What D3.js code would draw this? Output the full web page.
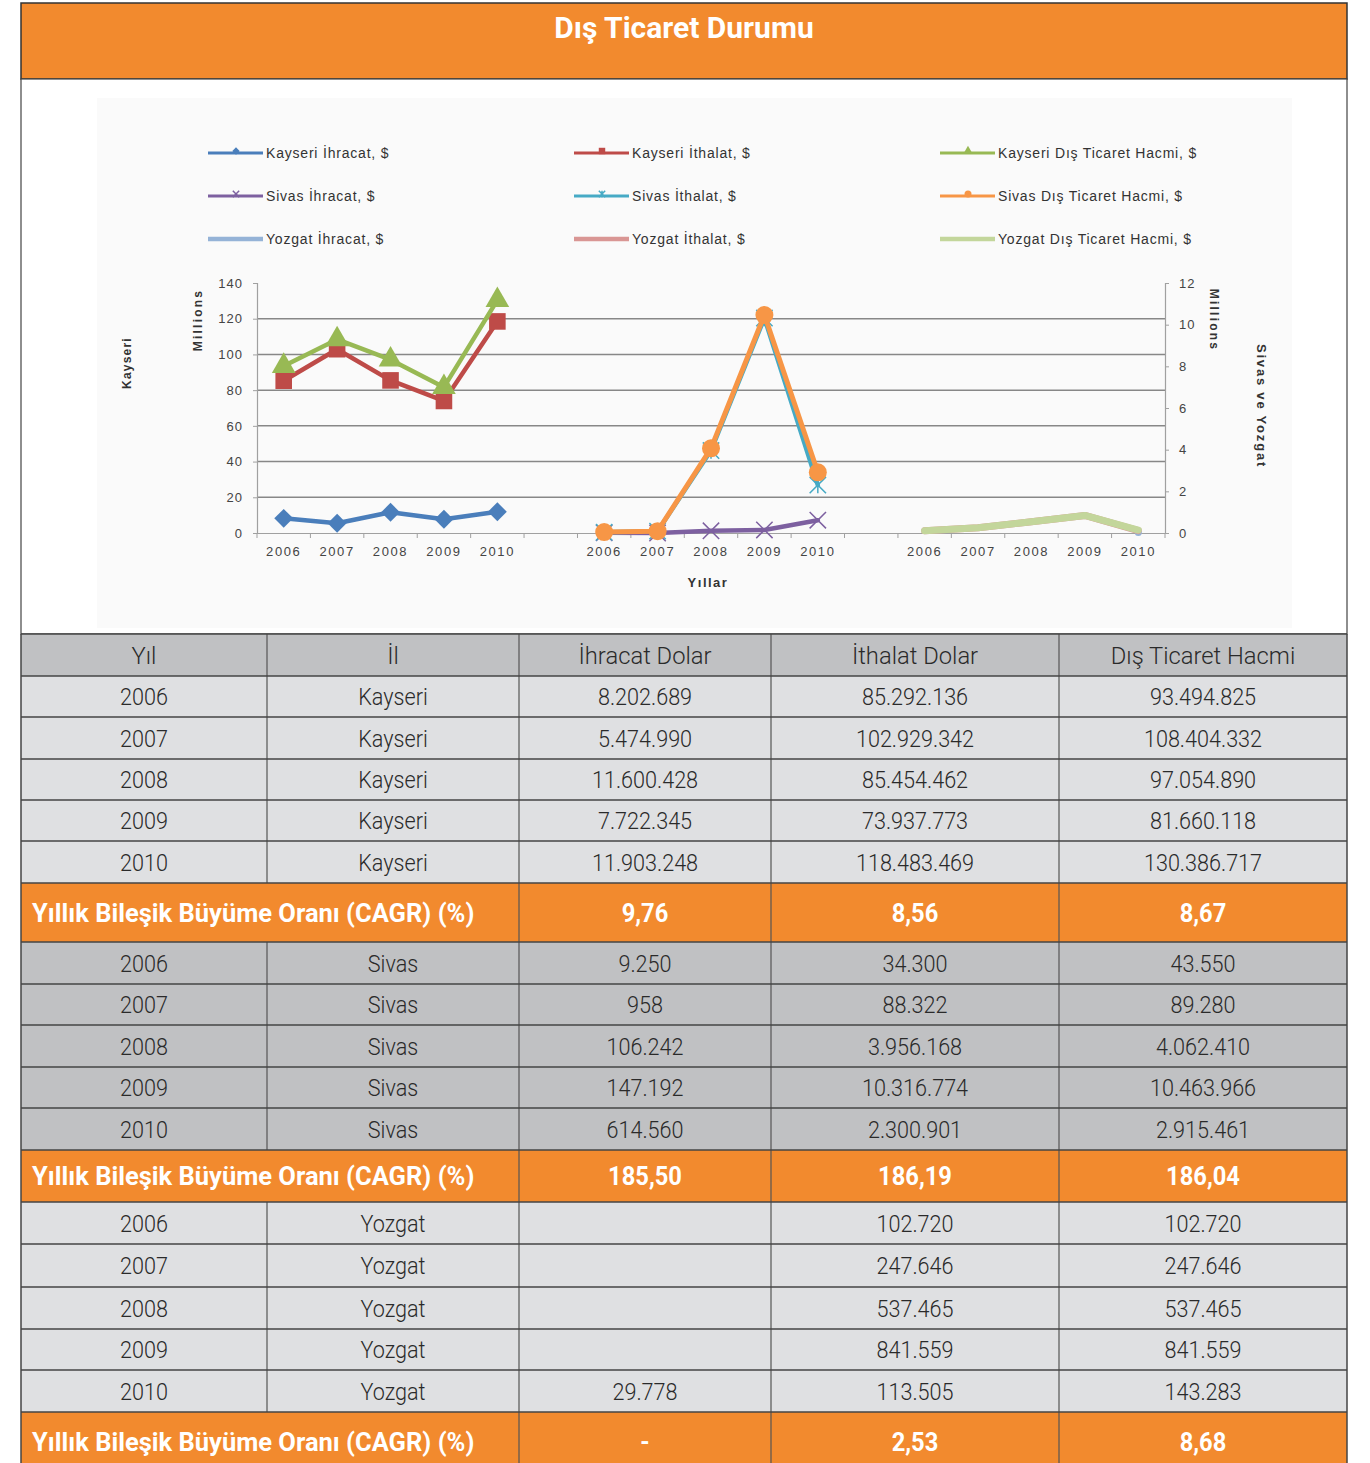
<!DOCTYPE html>
<html>
<head>
<meta charset="utf-8">
<script src="https://cdn.jsdelivr.net/npm/d3@7"></script>
<style>
  body { margin: 0; background: #fff; }
  svg { display: block; }
</style>
</head>
<body>
<script>
const years = [2006, 2007, 2008, 2009, 2010];
const provinces = ["Kayseri", "Sivas", "Yozgat"];
const kayseriIhracat = [8202689, 5474990, 11600428, 7722345, 11903248];
const kayseriIthalat = [85292136, 102929342, 85454462, 73937773, 118483469];
const kayseriHacim = [93494825, 108404332, 97054890, 81660118, 130386717];
const sivasIhracat = [9250, 958, 106242, 147192, 614560];
const sivasIthalat = [34300, 88322, 3956168, 10316774, 2300901];
const sivasHacim = [43550, 89280, 4062410, 10463966, 2915461];
const yozgatIhracat = [null, null, null, null, 29778];
const yozgatIthalat = [102720, 247646, 537465, 841559, 113505];
const yozgatHacim = [102720, 247646, 537465, 841559, 143283];
const cagrKayseri = [9.76, 8.56, 8.67];
const cagrSivas = [185.50, 186.19, 186.04];
const cagrYozgat = [null, 2.53, 8.68];
const tableHeaders = ["Yıl", "İl", "İhracat Dolar", "İthalat Dolar", "Dış Ticaret Hacmi"];
const cagrLabel = "Yıllık Bileşik Büyüme Oranı (CAGR) (%)";
const leftTicks = [0, 20, 40, 60, 80, 100, 120, 140];
const rightTicks = [0, 2, 4, 6, 8, 10, 12];
const title = "Dış Ticaret Durumu";

const W = 1370, H = 1463;
const orange = "#f28a2e";
const tr = d3.formatLocale({decimal: ",", thousands: ".", grouping: [3], currency: ["", ""]});
const fmtInt = tr.format(",d");
const fmtPct = tr.format(",.2f");

const svg = d3.select("body").append("svg").attr("width", W).attr("height", H);

// Title bar
svg.append("rect").attr("x", 21).attr("y", 3).attr("width", 1326).attr("height", 76)
  .attr("fill", orange).attr("stroke", "#333").attr("stroke-width", 1.5);
svg.append("text").attr("transform", "translate(684,38) scale(1,1)")
  .attr("text-anchor", "middle").attr("fill", "#fff")
  .style("font", "bold 30px Roboto").text(title);

// Chart panel
svg.append("rect").attr("x", 21).attr("y", 79).attr("width", 1326).attr("height", 555)
  .attr("fill", "#fff").attr("stroke", "#444").attr("stroke-width", 1.2);
svg.append("rect").attr("x", 97).attr("y", 98).attr("width", 1195).attr("height", 530)
  .attr("fill", "#fafafa");

// ----- chart -----
const xKeys = [];
provinces.forEach((p, i) => {
  years.forEach(y => xKeys.push(p + "-" + y));
  if (i < provinces.length - 1) xKeys.push("gap" + i);
});
const x = d3.scaleBand().domain(xKeys).range([257, 1165]).padding(0);
const cx = k => x(k) + x.bandwidth() / 2;
const yL = d3.scaleLinear().domain([0, 140]).range([533, 283]);
const yR = d3.scaleLinear().domain([0, 12]).range([533, 283]);

const chart = svg.append("g").style("font-family", "'Liberation Sans', Arial, sans-serif");

// gridlines
chart.append("g").selectAll("line").data(leftTicks.filter(d => d > 0 && d < 140)).join("line")
  .attr("x1", 257).attr("x2", 1165).attr("y1", d => yL(d)).attr("y2", d => yL(d))
  .attr("stroke", "#878787").attr("stroke-width", 1.5);

// axes
const tickStyle = a => a.attr("fill", "#444").style("font-size", "13px")
  .style("letter-spacing", "1px").style("font-family", "'Liberation Sans', Arial");
const axL = chart.append("g").attr("transform", "translate(257,0)")
  .call(d3.axisLeft(yL).tickValues(leftTicks).tickSize(4).tickPadding(10));
const axR = chart.append("g").attr("transform", "translate(1165,0)")
  .call(d3.axisRight(yR).tickValues(rightTicks).tickSize(4).tickPadding(10));
[axL, axR].forEach(a => {
  a.select(".domain").attr("stroke", "#a0a0a0").attr("stroke-width", 1.2);
  a.selectAll(".tick line").attr("stroke", "#a0a0a0");
  tickStyle(a.selectAll(".tick text"));
});
const axB = chart.append("g").attr("transform", "translate(0,533)")
  .call(d3.axisBottom(x).tickSize(0).tickPadding(14).tickFormat(k => k.startsWith("gap") ? "" : k.split("-")[1]));
axB.select(".domain").attr("stroke", "#a0a0a0").attr("stroke-width", 1.2);
tickStyle(axB.selectAll(".tick text")).style("letter-spacing", "1.6px");
// category boundary ticks
chart.append("g").selectAll("line").data(xKeys.concat(["end"])).join("line")
  .attr("x1", k => k === "end" ? 1165 : x(k)).attr("x2", k => k === "end" ? 1165 : x(k))
  .attr("y1", 533).attr("y2", 538).attr("stroke", "#a0a0a0");

// axis titles
const axTitle = (tf, txt, size, ls) => chart.append("text").attr("transform", tf).attr("text-anchor", "middle")
  .style("font-size", size + "px").style("font-weight", "bold").style("letter-spacing", ls + "px")
  .attr("fill", "#333").text(txt);
axTitle("translate(131,363) rotate(-90)", "Kayseri", 12, 1.2);
axTitle("translate(202,320) rotate(-90)", "Millions", 12, 2.2);
axTitle("translate(1210,320) rotate(90)", "Millions", 12, 2.2);
axTitle("translate(1257,406) rotate(90)", "Sivas ve Yozgat", 13, 1.8);
axTitle("translate(708,587)", "Yıllar", 13, 1.5);

// series
const series = [
  {name: "Kayseri İhracat, $", prov: "Kayseri", vals: kayseriIhracat, y: yL, color: "#4a7ebb", w: 4.5, mk: "diamond"},
  {name: "Kayseri İthalat, $", prov: "Kayseri", vals: kayseriIthalat, y: yL, color: "#be4b48", w: 4.5, mk: "square"},
  {name: "Kayseri Dış Ticaret Hacmi, $", prov: "Kayseri", vals: kayseriHacim, y: yL, color: "#98b954", w: 4.5, mk: "triangle"},
  {name: "Sivas İhracat, $", prov: "Sivas", vals: sivasIhracat, y: yR, color: "#7d60a0", w: 4.5, mk: "x"},
  {name: "Sivas İthalat, $", prov: "Sivas", vals: sivasIthalat, y: yR, color: "#46aac5", w: 4.5, mk: "star"},
  {name: "Sivas Dış Ticaret Hacmi, $", prov: "Sivas", vals: sivasHacim, y: yR, color: "#f79646", w: 5, mk: "circle"},
  {name: "Yozgat İhracat, $", prov: "Yozgat", vals: yozgatIhracat, y: yR, color: "#95b3d7", w: 7, mk: null},
  {name: "Yozgat İthalat, $", prov: "Yozgat", vals: yozgatIthalat, y: yR, color: "#d99694", w: 7, mk: null},
  {name: "Yozgat Dış Ticaret Hacmi, $", prov: "Yozgat", vals: yozgatHacim, y: yR, color: "#c3d69b", w: 7, mk: null}
];

function drawMarker(g, mk, color, s) {
  if (mk === "diamond") {
    g.append("path").attr("d", d3.symbol(d3.symbolSquare, s * s * 0.55)()).attr("transform", "rotate(45)").attr("fill", color);
  } else if (mk === "square") {
    g.append("path").attr("d", d3.symbol(d3.symbolSquare, s * s * 0.85)()).attr("fill", color);
  } else if (mk === "triangle") {
    g.append("path").attr("d", d3.symbol(d3.symbolTriangle, s * s * 0.75)()).attr("fill", color);
  } else if (mk === "circle") {
    g.append("circle").attr("r", s / 2).attr("fill", color);
  } else if (mk === "x" || mk === "star") {
    const h = s / 2.2;
    let d = `M${-h},${-h}L${h},${h}M${-h},${h}L${h},${-h}`;
    if (mk === "star") d += `M0,${-h}L0,${h}`;
    g.append("path").attr("d", d).attr("stroke", color).attr("stroke-width", 1.5).attr("fill", "none");
  }
}

const lineG = chart.append("g");
series.forEach(s => {
  const pts = years.map((yr, i) => ({k: s.prov + "-" + yr, v: s.vals[i]}));
  const line = d3.line().defined(d => d.v != null)
    .x(d => cx(d.k)).y(d => s.y(d.v / 1e6));
  lineG.append("path").datum(pts).attr("d", line).attr("fill", "none")
    .attr("stroke", s.color).attr("stroke-width", s.w).attr("stroke-linejoin", "round").attr("stroke-linecap", "round");
  if (s.mk) {
    pts.filter(d => d.v != null).forEach(d => {
      const g = lineG.append("g").attr("transform", `translate(${cx(d.k)},${s.y(d.v / 1e6)})`);
      drawMarker(g, s.mk, s.color, 18);
    });
  }
});

// legend
const legCols = [208, 574, 940], legRows = [153, 196, 239];
series.forEach((s, i) => {
  const lx = legCols[i % 3], ly = legRows[Math.floor(i / 3)];
  const g = chart.append("g");
  g.append("line").attr("x1", lx).attr("x2", lx + 55).attr("y1", ly).attr("y2", ly)
    .attr("stroke", s.color).attr("stroke-width", s.mk ? 3 : 4.5);
  if (s.mk) {
    const mg = g.append("g").attr("transform", `translate(${lx + 28},${ly - 2})`);
    drawMarker(mg, s.mk, s.color, 7);
  }
  g.append("text").attr("x", lx + 58).attr("y", ly + 5)
    .style("font-size", "14px").style("letter-spacing", "0.8px").attr("fill", "#333").text(s.name);
});

// ----- table -----
const cols = [21, 267, 519, 771, 1059, 1347];
const rowH = [42, 41, 42, 41, 41, 42, 59, 42, 41, 42, 41, 42, 52, 42, 43, 42, 41, 42, 60];
const provData = [
  {prov: "Kayseri", ih: kayseriIhracat, it: kayseriIthalat, hc: kayseriHacim, cagr: cagrKayseri, bg: "#dfe0e2"},
  {prov: "Sivas", ih: sivasIhracat, it: sivasIthalat, hc: sivasHacim, cagr: cagrSivas, bg: "#c0c1c3"},
  {prov: "Yozgat", ih: yozgatIhracat, it: yozgatIthalat, hc: yozgatHacim, cagr: cagrYozgat, bg: "#dfe0e2"}
];
const rows = [{type: "head", cells: tableHeaders, bg: "#c0c1c3"}];
provData.forEach(p => {
  years.forEach((yr, i) => rows.push({
    type: "data", bg: p.bg,
    cells: [String(yr), p.prov, p.ih[i] == null ? "" : fmtInt(p.ih[i]), fmtInt(p.it[i]), fmtInt(p.hc[i])]
  }));
  rows.push({type: "cagr", bg: orange, cells: p.cagr.map(v => v == null ? "-" : fmtPct(v))});
});

const table = svg.append("g").style("font-family", "Roboto, sans-serif");
let rowTop = 634;
rows.forEach((r, ri) => {
  const h = rowH[ri];
  const g = table.append("g");
  g.append("rect").attr("x", cols[0]).attr("y", rowTop).attr("width", cols[5] - cols[0]).attr("height", h)
    .attr("fill", r.bg);
  const mid = rowTop + h / 2;
  if (r.type === "cagr") {
    g.append("text").attr("transform", `translate(32,${mid + 9}) scale(1.02,1)`)
      .attr("fill", "#fff").style("font-size", "25px").style("font-weight", "bold").text(cagrLabel);
    r.cells.forEach((c, ci) => {
      const x0 = cols[ci + 2], x1 = cols[ci + 3];
      g.append("text").attr("transform", `translate(${(x0 + x1) / 2},${mid + 9}) scale(0.95,1)`)
        .attr("text-anchor", "middle").attr("fill", "#fff")
        .style("font-size", "25px").style("font-weight", "bold").text(c);
    });
    [519, 771, 1059].forEach(vx => g.append("line").attr("x1", vx).attr("x2", vx).attr("y1", rowTop).attr("y2", rowTop + h)
      .attr("stroke", "#555").attr("stroke-width", 1.2));
  } else {
    const sx = r.type === "head" ? 0.99 : 0.9;
    r.cells.forEach((c, ci) => {
      const x0 = cols[ci], x1 = cols[ci + 1];
      g.append("text").attr("transform", `translate(${(x0 + x1) / 2},${mid + 8.5}) scale(${sx},1)`)
        .attr("text-anchor", "middle").attr("fill", "#2a2a2a")
        .style("font-size", "24px").style("font-weight", 300).text(c);
    });
    cols.slice(1, 5).forEach(vx => g.append("line").attr("x1", vx).attr("x2", vx).attr("y1", rowTop).attr("y2", rowTop + h)
      .attr("stroke", "#555").attr("stroke-width", 1.2));
  }
  g.append("line").attr("x1", cols[0]).attr("x2", cols[5]).attr("y1", rowTop).attr("y2", rowTop)
    .attr("stroke", "#444").attr("stroke-width", 1.3);
  rowTop += h;
});
// outer borders of table
table.append("line").attr("x1", 21).attr("x2", 21).attr("y1", 634).attr("y2", H).attr("stroke", "#444").attr("stroke-width", 1.5);
table.append("line").attr("x1", 1347).attr("x2", 1347).attr("y1", 634).attr("y2", H).attr("stroke", "#444").attr("stroke-width", 1.5);
</script>
</body>
</html>
